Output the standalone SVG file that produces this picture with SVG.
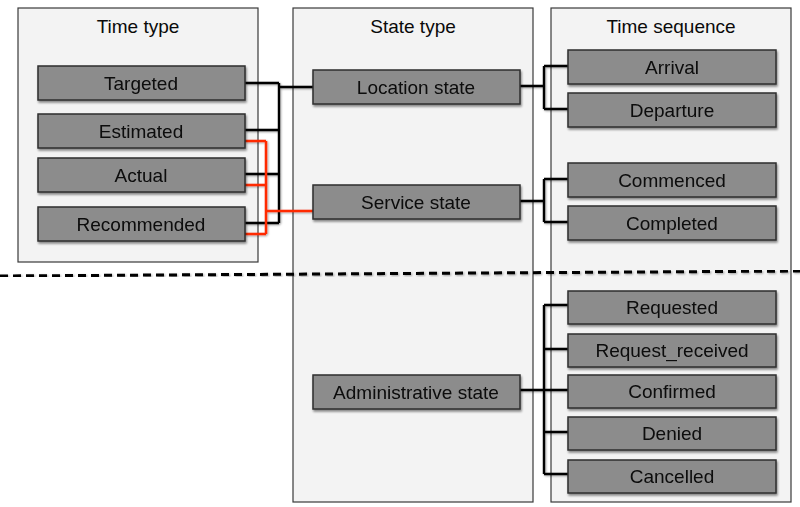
<svg xmlns="http://www.w3.org/2000/svg" width="800" height="507" viewBox="0 0 800 507">
  <defs>
    <filter id="shadow" x="-10%" y="-20%" width="130%" height="150%">
      <feGaussianBlur in="SourceAlpha" stdDeviation="1.2"/>
      <feOffset dx="1" dy="1.5" result="b"/>
      <feComponentTransfer><feFuncA type="linear" slope="0.45"/></feComponentTransfer>
      <feMerge><feMergeNode/><feMergeNode in="SourceGraphic"/></feMerge>
    </filter>
    <filter id="lshadow" x="-5%" y="-5%" width="110%" height="110%">
      <feGaussianBlur in="SourceAlpha" stdDeviation="0.8"/>
      <feOffset dx="0.8" dy="1" result="b"/>
      <feComponentTransfer><feFuncA type="linear" slope="0.35"/></feComponentTransfer>
      <feMerge><feMergeNode/><feMergeNode in="SourceGraphic"/></feMerge>
    </filter>
  </defs>
  <style>
    .panel { fill: #f3f3f3; stroke: #3a3a3a; stroke-width: 1.2; }
    .node rect { fill: #8c8c8c; stroke: #2e2e2e; stroke-width: 1.5; }
    text { font-family: "Liberation Sans", Arial, sans-serif; font-size: 19px; fill: #0a0a0a; text-anchor: middle; }
    .title { font-size: 19px; }
    .blk { fill: none; stroke: #000; stroke-width: 2.4; }
    .red { fill: none; stroke: #ff2a00; stroke-width: 2.5; }
  </style>

  <!-- column panels -->
  <g id="panels">
    <rect class="panel" x="18" y="8" width="240" height="254"/>
    <rect class="panel" x="293" y="8" width="240" height="494"/>
    <rect class="panel" x="551" y="8" width="240" height="494"/>
    <text class="title" x="138" y="33">Time type</text>
    <text class="title" x="413" y="33">State type</text>
    <text class="title" x="671" y="33">Time sequence</text>
  </g>

  <!-- separator -->
  <line x1="0" y1="276" x2="800" y2="271" stroke="#000" stroke-width="3" stroke-dasharray="8 5" filter="url(#lshadow)"/>

  <!-- connectors -->
  <g id="connectors" filter="url(#lshadow)">
    <path class="blk" d="M245 83 H279 M245 130 H279 M245 174 H279 M245 223 H279 M279 83 V223 M279 87 H313"/>
    <path class="red" d="M245 141 H266 M245 185 H266 M245 234 H266 M266 141 V234 M266 211 H313"/>
    <path class="blk" d="M520 86 H544 M544 66 V109 M544 66 H568 M544 109 H568"/>
    <path class="blk" d="M520 201 H544 M544 179 V222 M544 179 H568 M544 222 H568"/>
    <path class="blk" d="M520 390 H544 M544 305 V474 M544 305 H568 M544 349 H568 M544 390 H568 M544 432 H568 M544 474 H568"/>
  </g>

  <!-- time type -->
  <g id="targeted" class="node" filter="url(#shadow)"><rect x="38" y="66" width="207" height="34"/><text x="141" y="90">Targeted</text></g>
  <g id="estimated" class="node" filter="url(#shadow)"><rect x="38" y="114" width="207" height="34"/><text x="141" y="138">Estimated</text></g>
  <g id="actual" class="node" filter="url(#shadow)"><rect x="38" y="158" width="207" height="34"/><text x="141" y="182">Actual</text></g>
  <g id="recommended" class="node" filter="url(#shadow)"><rect x="38" y="207" width="207" height="34"/><text x="141" y="231">Recommended</text></g>

  <!-- state type -->
  <g id="location-state" class="node" filter="url(#shadow)"><rect x="313" y="70" width="207" height="34"/><text x="416" y="94">Location state</text></g>
  <g id="service-state" class="node" filter="url(#shadow)"><rect x="313" y="185" width="207" height="34"/><text x="416" y="209">Service state</text></g>
  <g id="administrative-state" class="node" filter="url(#shadow)"><rect x="313" y="375" width="207" height="34"/><text x="416" y="399">Administrative state</text></g>

  <!-- time sequence -->
  <g id="arrival" class="node" filter="url(#shadow)"><rect x="568" y="50" width="208" height="34"/><text x="672" y="74">Arrival</text></g>
  <g id="departure" class="node" filter="url(#shadow)"><rect x="568" y="93" width="208" height="34"/><text x="672" y="117">Departure</text></g>
  <g id="commenced" class="node" filter="url(#shadow)"><rect x="568" y="163" width="208" height="34"/><text x="672" y="187">Commenced</text></g>
  <g id="completed" class="node" filter="url(#shadow)"><rect x="568" y="206" width="208" height="34"/><text x="672" y="230">Completed</text></g>
  <g id="requested" class="node" filter="url(#shadow)"><rect x="568" y="291" width="208" height="33"/><text x="672" y="314">Requested</text></g>
  <g id="request-received" class="node" filter="url(#shadow)"><rect x="568" y="334" width="208" height="33"/><text x="672" y="357">Request_received</text></g>
  <g id="confirmed" class="node" filter="url(#shadow)"><rect x="568" y="375" width="208" height="33"/><text x="672" y="398">Confirmed</text></g>
  <g id="denied" class="node" filter="url(#shadow)"><rect x="568" y="417" width="208" height="33"/><text x="672" y="440">Denied</text></g>
  <g id="cancelled" class="node" filter="url(#shadow)"><rect x="568" y="460" width="208" height="33"/><text x="672" y="483">Cancelled</text></g>
</svg>
